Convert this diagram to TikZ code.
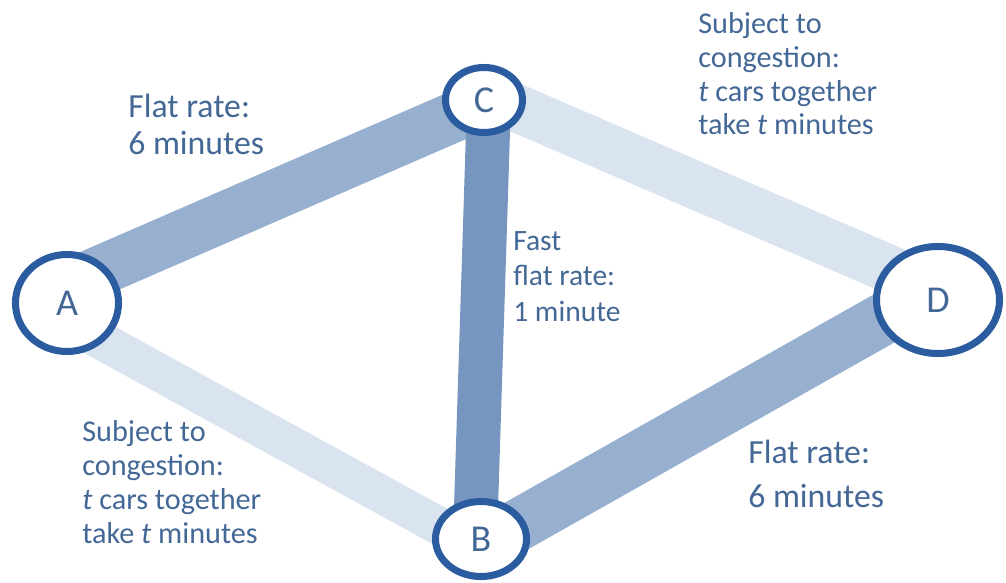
\documentclass[tikz,border=0pt]{standalone}
\usepackage{fontspec}
\setmainfont{Carlito}
\usetikzlibrary{shapes.geometric,calc,backgrounds}

\definecolor{ringblue}{RGB}{43,92,160}
\definecolor{textblue}{RGB}{68,104,150}
\definecolor{roadmid}{RGB}{152,176,207}
\definecolor{roaddark}{RGB}{118,150,192}
\definecolor{roadlight}{RGB}{218,228,240}

\tikzset{
  town/.style={ellipse, draw=ringblue, line width=5pt, fill=white, inner sep=0pt,
    text=textblue, font=\fontsize{27}{27}\selectfont},
  road/.style={line cap=butt},
  note/.style={anchor=base west, align=left, inner sep=0pt, text=textblue},
}

\begin{document}
\begin{tikzpicture}[x=0.025cm, y=-0.025cm]
    \useasboundingbox (0,0) rectangle (1006,583);

    %towns
    \node[town, minimum width=2.575cm, minimum height=2.425cm] (A) at (67,303) {A};
    \node[town, minimum width=1.925cm, minimum height=1.625cm] (C) at (484,100) {C};
    \node[town, minimum width=2.275cm, minimum height=1.875cm] (B) at (481,539) {B};
    \node[town, minimum width=3.075cm, minimum height=2.675cm] (D) at (938,300) {D};

    %roads
    \begin{scope}[on background layer]
    \draw[road, roadmid, line width=35.6pt] ($(A)+(0,-18)$) -- ($(C)+(0,4)$);
    \draw[road, roadlight, line width=27pt] ($(A)+(0,19)$) -- ($(B)+(0,10)$);
    \draw[road, roadlight, line width=34pt] ($(C)+(0,-6)$) -- ($(D)+(0,-10)$);
    \draw[road, roadmid, line width=37pt] ($(B)+(0,7)$) -- ($(D)+(0,-12)$);
    \draw[road, roaddark, line width=31.3pt] ($(C)+(5,0)$) -- ($(B)+(-6,0)$);
    \end{scope}

    %labels (placed at the baseline of their last line)
    \node[note, font=\fontsize{24}{27}\selectfont] (ACnote) at (128,155) {Flat rate:\\6 minutes};
    \node[note, font=\fontsize{24}{31}\selectfont] (BDnote) at (748,507) {Flat rate:\\6 minutes};
    \node[note, font=\fontsize{21}{25}\selectfont] (CBnote) at (513,321) {Fast\\flat rate:\\1 minute};
    \node[note, font=\fontsize{21.5}{24}\selectfont] (CDnote) at (698,135)
        {Subject to\\congestion:\\\textit{t} cars together\\take \textit{t} minutes};
    \node[note, font=\fontsize{21.5}{24}\selectfont] (ABnote) at (82,543)
        {Subject to\\congestion:\\\textit{t} cars together\\take \textit{t} minutes};
\end{tikzpicture}
\end{document}
